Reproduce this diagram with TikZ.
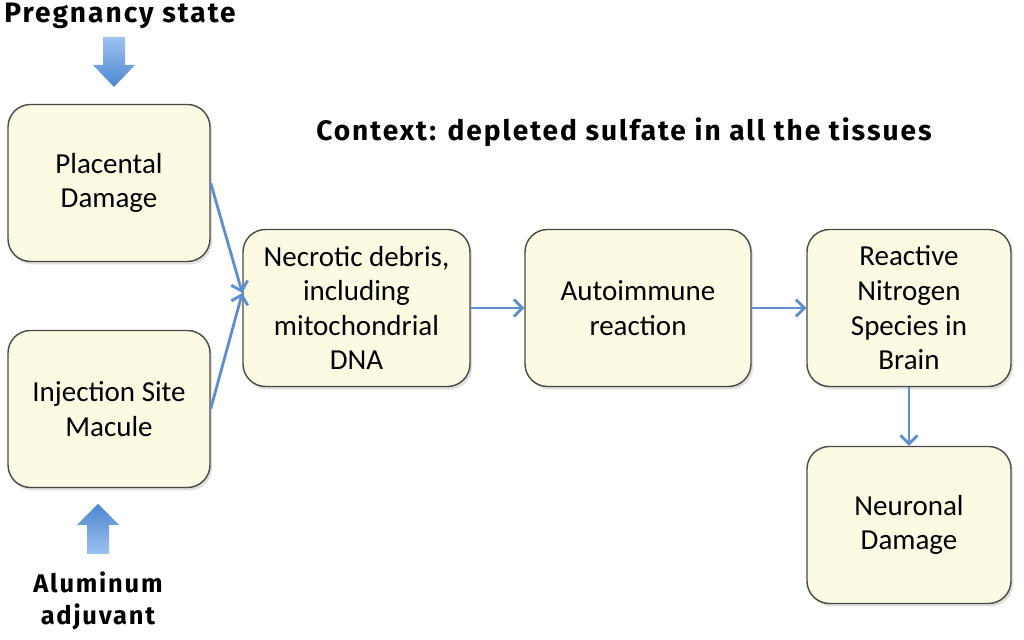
\documentclass[tikz,border=0pt]{standalone}
\usepackage{fontspec}
\setmainfont{Carlito}
\newfontfamily\handfont[LetterSpace=7]{Fira Sans}
\usetikzlibrary{arrows.meta,positioning,shadows}
\definecolor{boxfill}{HTML}{FCFAE3}
\definecolor{boxline}{HTML}{4A4A44}
\definecolor{linkblue}{HTML}{5B8FD0}
\definecolor{blocklight}{HTML}{9CC3EF}
\definecolor{blockdark}{HTML}{4C87D2}

\begin{document}
\begin{tikzpicture}
[box/.style={rectangle,rounded corners=0.45cm,draw=boxline,line width=0.8pt,fill=boxfill,
  minimum width=4.04cm,minimum height=3.14cm,align=center,font=\fontsize{16.5}{19.7}\selectfont,
  drop shadow={shadow xshift=0.04cm,shadow yshift=-0.06cm,opacity=0.25}},
 link/.style={draw=linkblue,line width=1.6pt,-{Straight Barb[length=1.7mm,width=3.4mm,line width=1.6pt]}},
 hand/.style={font=\handfont\bfseries\fontsize{16}{18.2}\selectfont,align=center}]
\useasboundingbox (0,0) rectangle (20.48,12.8);

\node[box] (placental) at (2.18,9.14) {Placental\\Damage};
\node[box] (injection) at (2.18,4.62) {Injection Site\\Macule};
\node[box,minimum width=4.54cm] (debris) at (7.13,6.64) {Necrotic debris,\\including\\mitochondrial\\DNA};
\node[box,minimum width=4.52cm] (autoimmune) at (12.76,6.64) {Autoimmune\\reaction};
\node[box,minimum width=4.08cm] (nitrogen) at (18.18,6.64) {Reactive\\Nitrogen\\Species in\\Brain};
\node[box,minimum width=4.08cm] (neuronal) at (18.18,2.30) {Neuronal\\Damage};

\node[hand] (pregnancy) at (2.40,12.48) {Pregnancy state};
\node[hand,font=\handfont\bfseries\fontsize{14.5}{18.2}\selectfont] (aluminum) at (1.96,0.78) {Aluminum\\adjuvant};
\node[hand] (context) at (12.48,10.16) {Context: depleted sulfate in all the tissues};

% block arrows
\coordinate (pregtip) at (2.28,11.06);
\coordinate (alutip) at (1.96,2.72);
\shade[top color=blocklight,bottom color=blockdark]
  (pregtip) -- ++(-0.42,0.44) -- ++(0.2,0) -- ++(0,0.56) -- ++(0.44,0) -- ++(0,-0.56) -- ++(0.2,0) -- cycle;
\shade[top color=blockdark,bottom color=blocklight]
  (alutip) -- ++(-0.42,-0.42) -- ++(0.2,0) -- ++(0,-0.58) -- ++(0.44,0) -- ++(0,0.58) -- ++(0.2,0) -- cycle;

\draw [link] (placental.east) -- ([yshift=0.3cm]debris.west);
\draw [link] (injection.east) -- ([yshift=0.3cm]debris.west);
\draw [link] (debris) -- (autoimmune);
\draw [link] (autoimmune) -- (nitrogen);
\draw [link] (nitrogen) -- (neuronal);
\end{tikzpicture}
\end{document}
